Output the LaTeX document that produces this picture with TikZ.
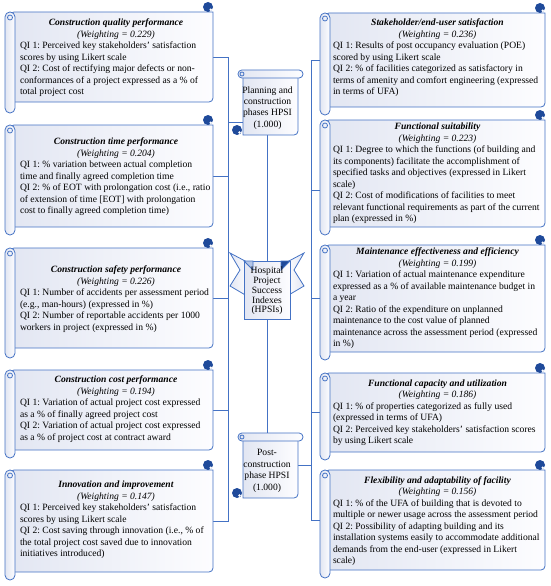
\documentclass[tikz,border=0pt]{standalone}
\usepackage{fontspec}
\setmainfont{Liberation Serif}
\usetikzlibrary{calc,backgrounds}
\setlength{\parindent}{0pt}
\frenchspacing
\definecolor{edge}{RGB}{68,114,196}
\definecolor{curlblue}{RGB}{31,74,154}
\definecolor{paperL}{RGB}{226,230,242}
\definecolor{paperR}{RGB}{253,253,255}
\definecolor{foldL}{RGB}{180,198,231}
\tikzset{
  edgeline/.style={draw=edge, line width=0.8pt},
  conn/.style={draw=edge, line width=0.75pt},
  anchorbox/.style={inner sep=0pt, draw=none, fill=none},
  ltxt/.style={align=left, inner sep=0pt, font=\fontsize{9.6}{11.5}\selectfont},
  ctxt/.style={align=center, inner sep=0pt, font=\fontsize{9.6}{11.2}\selectfont},
}
\newcommand{\kpititle}[3]{\makebox[#1][c]{\textbf{\textit{#2}}}\\\makebox[#1][c]{\textit{(Weighting = #3)}}}
% vertical scroll: xa (roll left), xb (body right), ya (top), yb (body bottom), yr (roll bottom)
\newcommand{\VScroll}[5]{%
  \draw[edgeline, left color=paperL, right color=paperR] (#1+5,#3) -- (#2,#3) [rounded corners=4] -- (#2,#4) -- (#1+5,#4) -- cycle;
  \draw[edgeline, left color=paperL, right color=paperR, rounded corners=4.9] (#1,#3) rectangle (#1+10,#5);
  \draw[edgeline] (#1+5,#3+5.5) circle (2.5);
  \fill[curlblue] (#2-5,#3-5) circle (5);
  \fill[paperR] (#2-2.2,#3-2.2) circle (1.4);
}
% horizontal scroll: x0 (roll left), x1 (roll right), y0 (roll top), y1 (body bottom)
\newcommand{\HScroll}[4]{%
  \draw[edgeline, left color=paperL, right color=paperR] (#1+5,#3+4) -- (#1+5,#4) [rounded corners=4] -- (#2-5,#4) -- (#2-5,#3+4) -- cycle;
  \draw[edgeline, left color=paperL, right color=paperR, rounded corners=3.9] (#1,#3) rectangle (#2,#3+8);
  \draw[edgeline] (#1+4,#3+4) circle (2);
  \fill[curlblue] (#1-1,#4-5) circle (5);
  \fill[paperR] (#1+1.5,#4-2.5) circle (1.3);
}
\begin{document}
\begin{tikzpicture}[x=1pt,y=-1pt]
\useasboundingbox (0,0) rectangle (550,586);

% ---- scroll shapes ----
\VScroll{5}{213}{12}{102}{113}
\VScroll{5}{213}{125}{227}{235}
\VScroll{5}{213}{248}{348}{358}
\VScroll{5}{213}{370}{450}{458}
\VScroll{5}{213}{470}{572}{580}
\VScroll{320}{545}{13}{107}{115}
\VScroll{320}{545}{120}{227}{235}
\VScroll{320}{545}{245}{352}{360}
\VScroll{320}{545}{373}{452}{460}
\VScroll{320}{545}{470}{570}{578}
\HScroll{238}{303}{70}{135}
\HScroll{238}{303}{433}{498}

% ---- hospital ribbon ----
\draw[edgeline, left color=paperL, right color=paperR] (230,253) -- (247,262) -- (247,296) -- (230,286) -- (240,270) -- cycle;
\draw[edgeline, left color=paperR, right color=paperL] (304,253) -- (287,262) -- (287,296) -- (304,286) -- (294,270) -- cycle;
\node[edgeline, left color=paperL, right color=paperR, minimum width=46pt, minimum height=58pt, inner sep=0pt] (Hp) at (267,290) {};
\draw[edgeline, fill=foldL] (244,261) -- (253,261) -- (253,270) -- cycle;
\draw[edgeline, fill=curlblue] (290,261) -- (281,261) -- (281,270) -- cycle;

% ---- anchor nodes ----
\node[anchorbox, minimum width=198pt, minimum height=90pt] (L1) at (114,57) {};
\node[anchorbox, minimum width=198pt, minimum height=102pt] (L2) at (114,176) {};
\node[anchorbox, minimum width=198pt, minimum height=100pt] (L3) at (114,298) {};
\node[anchorbox, minimum width=198pt, minimum height=80pt] (L4) at (114,410) {};
\node[anchorbox, minimum width=198pt, minimum height=102pt] (L5) at (114,521) {};
\node[anchorbox, minimum width=225pt, minimum height=94pt] (R1) at (432.5,60) {};
\node[anchorbox, minimum width=225pt, minimum height=107pt] (R2) at (432.5,173.5) {};
\node[anchorbox, minimum width=225pt, minimum height=107pt] (R3) at (432.5,298.5) {};
\node[anchorbox, minimum width=225pt, minimum height=79pt] (R4) at (432.5,412.5) {};
\node[anchorbox, minimum width=225pt, minimum height=100pt] (R5) at (432.5,520) {};
\node[anchorbox, minimum width=65pt, minimum height=65pt] (Pb) at (270.5,102.5) {};
\node[anchorbox, minimum width=65pt, minimum height=65pt] (Qb) at (270.5,465.5) {};
\coordinate (Pw) at (243,122);
\coordinate (Qe) at (298,465);
\coordinate (lb) at (228,0);
\coordinate (rb) at (311,0);

% ---- texts ----
\node[ltxt] (T1) at (116,58) {\kpititle{192pt}{Construction quality performance}{0.229}\\QI 1: Perceived key stakeholders' satisfaction\\scores by using Likert scale\\QI 2: Cost of rectifying major defects or non-\\conformances of a project expressed as a \% of\\total project cost};
\node[ltxt] (T2) at (116,177) {\kpititle{192pt}{Construction time performance}{0.204}\\QI 1: \% variation between actual completion\\time and finally agreed completion time\\QI 2: \% of EOT with prolongation cost (i.e., ratio\\of extension of time [EOT] with prolongation\\cost to finally agreed completion time)};
\node[ltxt] (T3) at (116,299) {\kpititle{192pt}{Construction safety performance}{0.226}\\QI 1: Number of accidents per assessment period\\(e.g., man-hours) (expressed in \%)\\QI 2: Number of reportable accidents per 1000\\workers in project (expressed in \%)};
\node[ltxt] (T4) at (116,409) {\kpititle{192pt}{Construction cost performance}{0.194}\\QI 1: Variation of actual project cost expressed\\as a \% of finally agreed project cost\\QI 2: Variation of actual project cost expressed\\as a \% of project cost at contract award};
\node[ltxt] (T5) at (116,520) {\kpititle{192pt}{Innovation and improvement}{0.147}\\QI 1: Perceived key stakeholders' satisfaction\\scores by using Likert scale\\QI 2: Cost saving through innovation (i.e., \% of\\the total project cost saved due to innovation\\initiatives introduced)};

\node[ltxt] (U1) at (437.5,58) {\kpititle{209pt}{Stakeholder/end-user satisfaction}{0.236}\\QI 1: Results of post occupancy evaluation (POE)\\scored by using Likert scale\\QI 2: \% of facilities categorized as satisfactory in\\terms of amenity and comfort engineering (expressed\\in terms of UFA)};
\node[ltxt] (U2) at (437.5,173.5) {\kpititle{209pt}{Functional suitability}{0.223}\\QI 1: Degree to which the functions (of building and\\its components) facilitate the accomplishment of\\specified tasks and objectives (expressed in Likert\\scale)\\QI 2: Cost of modifications of facilities to meet\\relevant functional requirements as part of the current\\plan (expressed in \%)};
\node[ltxt] (U3) at (437.5,298.5) {\kpititle{209pt}{Maintenance effectiveness and efficiency}{0.199}\\QI 1: Variation of actual maintenance expenditure\\expressed as a \% of available maintenance budget in\\a year\\QI 2: Ratio of the expenditure on unplanned\\maintenance to the cost value of planned\\maintenance across the assessment period (expressed\\in \%)};
\node[ltxt] (U4) at (437.5,412.5) {\kpititle{209pt}{Functional capacity and utilization}{0.186}\\QI 1: \% of properties categorized as fully used\\(expressed in terms of UFA)\\QI 2: Perceived key stakeholders' satisfaction scores\\by using Likert scale};
\node[ltxt] (U5) at (437.5,521) {\kpititle{209pt}{Flexibility and adaptability of facility}{0.156}\\QI 1: \% of the UFA of building that is devoted to\\multiple or newer usage across the assessment period\\QI 2: Possibility of adapting building and its\\installation systems easily to accommodate additional\\demands from the end-user (expressed in Likert\\scale)};

\node[ctxt] (P) at (267.5,108) {Planning and\\construction\\phases HPSI\\(1.000)};
\node[ctxt, font=\fontsize{9.6}{11.5}\selectfont] (Q) at (267,471) {Post-\\construction\\phase HPSI\\(1.000)};
\node[ctxt, font=\fontsize{9.6}{9.8}\selectfont] (H) at (267,291) {Hospital\\Project\\Success\\Indexes\\(HPSIs)};

% ---- connectors ----
\begin{scope}[on background layer]
\draw[conn] (L1.east) -- (L1.east -| lb) -- (L5.east -| lb) -- (L5.east);
\draw[conn] (L2.east) -- (L2.east -| lb);
\draw[conn] (L3.east) -- (L3.east -| lb);
\draw[conn] (L4.east) -- (L4.east -| lb);
\draw[conn] (Pw) -- (Pw -| lb);
\draw[conn] (R1.west) -- (R1.west -| rb) -- (R5.west -| rb) -- (R5.west);
\draw[conn] ([yshift=-16.5pt]R2.west) -- ([yshift=-16.5pt]R2.west -| rb);
\draw[conn] (R3.west) -- (R3.west -| rb);
\draw[conn] (R4.west) -- (R4.west -| rb);
\draw[conn] (Qe) -- (Qe -| rb);
\draw[conn] (Hp.north |- Pb.south) -- (Hp.north);
\draw[conn] (Hp.south) -- (Hp.south |- Qb.north);
\end{scope}
\end{tikzpicture}
\end{document}
